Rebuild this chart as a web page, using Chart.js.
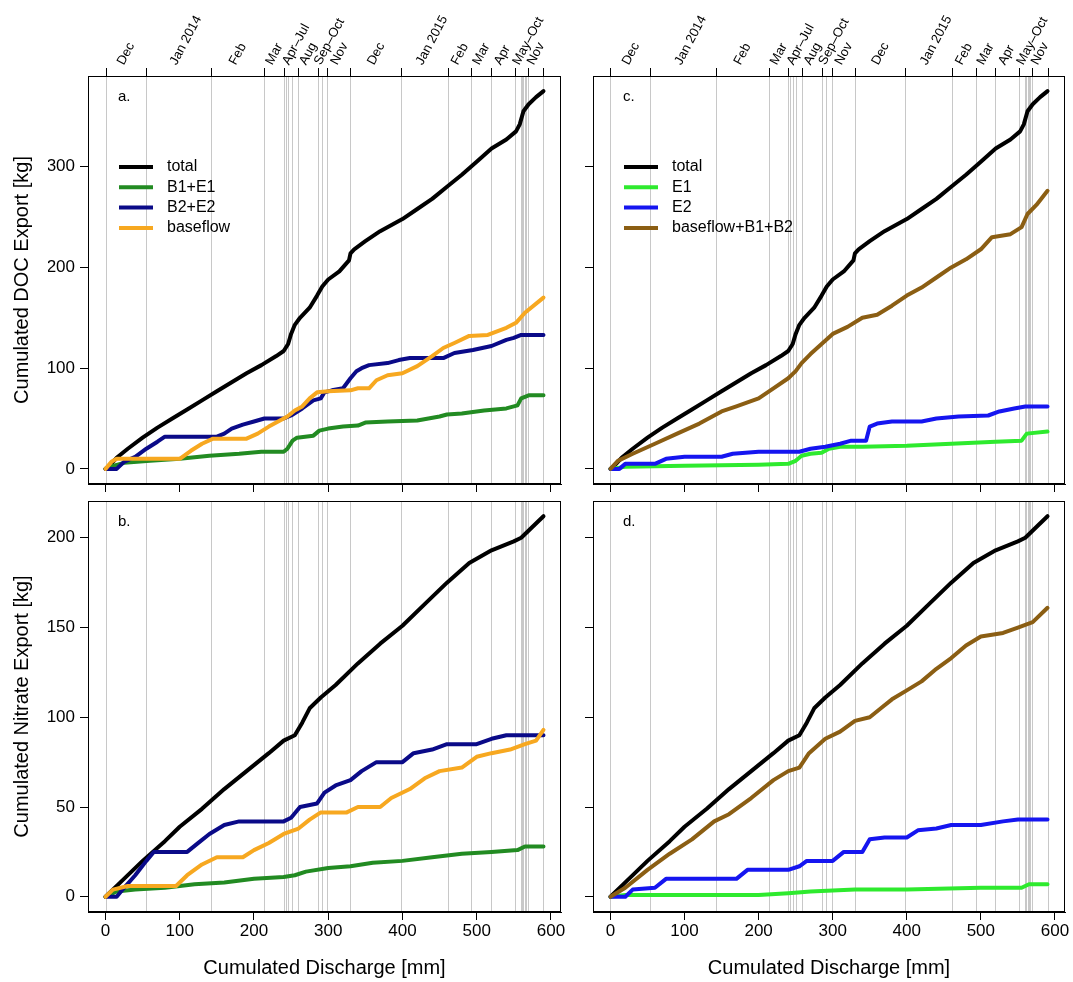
<!DOCTYPE html>
<html lang="en">
<head>
<meta charset="UTF-8">
<title>Cumulated DOC and Nitrate Export</title>
<script src="https://cdn.jsdelivr.net/npm/chart.js"></script>
<style>
  body { margin: 0; background: #fff; }
  #wrap { position: relative; width: 1073px; height: 982px; }
  #wrap canvas { position: absolute; left: 0; top: 0; }
</style>
</head>
<body>
<div id="wrap">
  <canvas id="pa" width="1073" height="982"></canvas>
  <canvas id="pb" width="1073" height="982"></canvas>
  <canvas id="pc" width="1073" height="982"></canvas>
  <canvas id="pd" width="1073" height="982"></canvas>
</div>
<script>
// month boundaries in cumulated discharge [mm]
const monthBreaks = [0, 54, 142, 214, 240, 243, 246, 251, 259, 286, 291, 299, 330, 398, 461, 493, 519, 551, 560, 561.5, 563, 564.5, 566, 568.5, 590];
const topTicks = [0, 54, 142, 214, 240, 259, 286, 299, 330, 398, 461, 493, 519, 551, 568.5, 590];
const monthLabels = ['Dec', 'Jan 2014', 'Feb', 'Mar', 'Apr\u2013Jul', 'Aug', 'Sep\u2013Oct', 'Nov', 'Dec', 'Jan 2015', 'Feb', 'Mar', 'Apr', 'May\u2013Oct', 'Nov'];

// tick labels
const xTicks = [0, 100, 200, 300, 400, 500, 600];
const docTicks = [0, 100, 200, 300];
const no3Ticks = [0, 50, 100, 150, 200];

// DOC [kg] vs discharge [mm]
const docTotal = [[0,0],[5,3],[15,11],[30,20],[50,31],[70,41],[90,50],[110,59],[130,68],[150,77],[170,86],[190,95],[210,103],[230,112],[240,117],[246,124],[250,134],[255,143],[262,150],[275,160],[285,172],[292,181],[300,188],[315,196],[328,207],[330,214],[335,218],[350,226],[370,236],[400,248],[420,258],[440,268],[445,271],[460,280],[480,292],[500,305],[520,318],[540,327],[553,335],[558,342],[563,355],[570,362],[580,369],[590,375]];
const docB1E1 = [[0,0],[10,3],[25,6],[60,8],[100,10],[140,13],[180,15],[210,17],[240,17],[245,20],[252,28],[258,31],[280,33],[288,38],[300,40],[320,42],[340,43],[350,46],[380,47],[420,48],[450,52],[460,54],[480,55],[510,58],[540,60],[555,63],[560,70],[570,73],[590,73]];
const docB2E2 = [[0,0],[15,0],[25,7],[40,12],[55,20],[70,27],[80,32],[150,32],[160,35],[170,40],[185,44],[200,47],[214,50],[240,50],[250,53],[265,60],[280,68],[290,70],[295,76],[305,78],[320,80],[330,90],[338,97],[345,100],[355,103],[380,105],[395,108],[410,110],[455,110],[470,115],[495,118],[520,122],[540,128],[550,130],[560,133],[590,133]];
const docBase = [[0,0],[8,7],[15,10],[40,10],[100,10],[115,18],[130,25],[145,30],[190,30],[205,35],[220,42],[235,48],[245,52],[255,58],[265,62],[275,70],[285,76],[300,77],[330,78],[340,80],[355,80],[365,88],[380,93],[400,95],[420,102],[440,112],[455,120],[470,125],[490,132],[515,133],[540,140],[553,145],[565,155],[590,170]];
const docE1 = [[0,0],[20,2],[100,3],[200,4],[240,5],[250,8],[258,13],[270,15],[285,16],[295,20],[310,22],[340,22],[400,23],[460,25],[520,27],[555,28],[562,35],[590,37]];
const docE2 = [[0,0],[12,0],[20,5],[60,5],[75,10],[100,12],[150,12],[165,15],[200,17],[255,17],[270,20],[290,22],[310,25],[325,28],[345,28],[350,42],[360,45],[380,47],[420,47],[440,50],[470,52],[510,53],[525,57],[545,60],[560,62],[590,62]];
const docBaseB = [[0,0],[10,8],[30,15],[60,25],[90,35],[120,45],[150,57],[170,62],[200,70],[220,80],[240,90],[250,97],[258,105],[270,114],[285,124],[300,134],[320,141],[340,150],[360,153],[380,162],[400,172],[420,180],[440,190],[460,200],[480,208],[500,218],[515,230],[540,233],[555,240],[563,253],[575,262],[590,276]];

// Nitrate [kg] vs discharge [mm]
const no3Total = [[0,0],[20,8],[50,20],[80,31],[100,39],[130,49],[160,60],[190,70],[220,80],[240,87],[255,90],[265,97],[275,105],[290,111],[310,118],[340,130],[370,141],[400,151],[430,163],[460,175],[490,186],[520,193],[550,198],[560,200],[575,206],[590,212]];
const no3B1E1 = [[0,0],[15,3],[40,4],[80,5],[120,7],[160,8],[200,10],[240,11],[255,12],[270,14],[300,16],[330,17],[360,19],[400,20],[440,22],[480,24],[520,25],[555,26],[565,28],[590,28]];
const no3B2E2 = [[0,0],[15,0],[25,5],[40,12],[55,20],[65,25],[110,25],[125,30],[140,35],[160,40],[180,42],[240,42],[250,44],[262,50],[285,52],[295,58],[310,62],[330,65],[345,70],[365,75],[400,75],[415,80],[440,82],[460,85],[500,85],[520,88],[540,90],[590,90]];
const no3Base = [[0,0],[10,4],[30,6],[95,6],[110,12],[130,18],[150,22],[185,22],[200,26],[220,30],[240,35],[260,38],[275,43],[290,47],[325,47],[340,50],[370,50],[385,55],[410,60],[430,66],[450,70],[480,72],[500,78],[520,80],[545,82],[565,85],[580,87],[590,93]];
const no3E1 = [[0,0],[20,1],[200,1],[240,2],[270,3],[330,4],[400,4],[500,5],[555,5],[565,7],[590,7]];
const no3E2 = [[0,0],[20,0],[30,4],[60,5],[75,10],[170,10],[185,15],[240,15],[255,17],[265,20],[300,20],[315,25],[340,25],[350,32],[370,33],[400,33],[415,37],[440,38],[460,40],[500,40],[530,42],[550,43],[590,43]];
const no3BaseB = [[0,0],[20,5],[50,15],[80,24],[110,32],[140,42],[160,46],[190,55],[220,65],[240,70],[255,72],[268,80],[290,88],[310,92],[330,98],[350,100],[365,105],[380,110],[400,115],[420,120],[440,127],[460,133],[480,140],[500,145],[530,147],[550,150],[570,153],[590,161]];

const FONT = "'Liberation Sans', Arial, sans-serif";

// R-like decorations: month lines, box, top month axis, legend, titles
const rPanel = {
  id: 'rPanel',
  beforeDatasetsDraw(chart) {
    const { ctx, chartArea: a, scales: { x } } = chart;
    ctx.save();
    ctx.strokeStyle = '#c8c8c8';
    ctx.lineWidth = 1;
    monthBreaks.forEach(m => {
      const px = Math.round(x.getPixelForValue(m)) + 0.5;
      ctx.beginPath(); ctx.moveTo(px, a.top); ctx.lineTo(px, a.bottom); ctx.stroke();
    });
    ctx.restore();
  },
  afterDraw(chart, args, o) {
    const { ctx, chartArea: a, scales: { x } } = chart;
    ctx.save();
    ctx.strokeStyle = '#000';
    ctx.lineWidth = 1;
    ctx.strokeRect(a.left + 0.5, a.top + 0.5, a.right - a.left - 1, a.bottom - a.top - 1);

    ctx.fillStyle = '#000';
    ctx.font = '15px ' + FONT;
    ctx.textAlign = 'left';
    ctx.textBaseline = 'middle';
    ctx.fillText(o.tag, a.left + 30, a.top + 21);

    if (o.legend) {
      ctx.font = '16px ' + FONT;
      chart.data.datasets.forEach((ds, i) => {
        const y = a.top + 91 + i * 20.3;
        ctx.strokeStyle = ds.borderColor;
        ctx.lineWidth = 4;
        ctx.beginPath(); ctx.moveTo(a.left + 31, y); ctx.lineTo(a.left + 65, y); ctx.stroke();
        ctx.fillText(ds.label, a.left + 79, y);
      });
    }

    if (o.top) {
      ctx.strokeStyle = '#000';
      ctx.lineWidth = 1;
      topTicks.forEach(m => {
        const px = Math.round(x.getPixelForValue(m)) + 0.5;
        ctx.beginPath(); ctx.moveTo(px, a.top); ctx.lineTo(px, a.top - 8); ctx.stroke();
      });
      ctx.font = '13px ' + FONT;
      monthLabels.forEach((lab, i) => {
        const mid = x.getPixelForValue((topTicks[i] + topTicks[i + 1]) / 2);
        ctx.save();
        ctx.translate(mid - 5, a.top - 12);
        ctx.rotate(-62 * Math.PI / 180);
        ctx.fillText(lab, 0, 0);
        ctx.restore();
      });
    }

    ctx.font = '20px ' + FONT;
    ctx.textAlign = 'center';
    if (o.yTitle) {
      ctx.save();
      ctx.translate(22, (a.top + a.bottom) / 2);
      ctx.rotate(-Math.PI / 2);
      ctx.fillText(o.yTitle, 0, 0);
      ctx.restore();
    }
    if (o.xTitle) {
      ctx.fillText(o.xTitle, (a.left + a.right) / 2, 968);
    }
    ctx.restore();
  }
};

function extent(series) {
  const ys = series.flat().map(p => p[1]);
  const lo = Math.min(...ys), hi = Math.max(...ys);
  const pad = (hi - lo) * 0.04;
  return [lo - pad, hi + pad];
}
const xs = [docTotal, no3Total].flat().map(p => p[0]);
const xPad = (Math.max(...xs) - Math.min(...xs)) * 0.04;

function line(label, data, color, order) {
  return { label, data, borderColor: color, backgroundColor: color, borderWidth: 4,
           pointRadius: 0, tension: 0, borderJoinStyle: 'round', borderCapStyle: 'round', order };
}

function panel(id, box, datasets, yRange, yTicks, opts) {
  const [L, T, R, B] = box;
  new Chart(document.getElementById(id), {
    type: 'line',
    data: { datasets },
    options: {
      responsive: false,
      animation: false,
      layout: { padding: { left: L - 40, top: T, right: 1073 - R, bottom: 982 - B - 40 } },
      scales: {
        x: {
          type: 'linear', position: 'bottom',
          min: Math.min(...xs) - xPad, max: Math.max(...xs) + xPad,
          afterFit: s => { s.height = 40; },
          afterBuildTicks: s => { s.ticks = xTicks.map(v => ({ value: v })); },
          grid: { drawOnChartArea: false, drawTicks: true, tickLength: 8, color: '#000' },
          border: { display: true, color: '#000' },
          ticks: { display: opts.xLabels, padding: 1, color: '#000',
                   font: { size: 17, family: FONT }, maxRotation: 0 }
        },
        y: {
          type: 'linear', position: 'left',
          min: yRange[0], max: yRange[1],
          afterFit: s => { s.width = 40; },
          afterBuildTicks: s => { s.ticks = yTicks.map(v => ({ value: v })); },
          grid: { drawOnChartArea: false, drawTicks: true, tickLength: 8, color: '#000' },
          border: { display: true, color: '#000' },
          ticks: { display: opts.yLabels, padding: 5, color: '#000',
                   font: { size: 17, family: FONT } }
        }
      },
      plugins: {
        legend: { display: false },
        tooltip: { enabled: false },
        rPanel: opts
      }
    },
    plugins: [rPanel]
  });
}

const docRange = extent([docTotal, docB1E1, docB2E2, docBase, docE1, docE2, docBaseB]);
const no3Range = extent([no3Total, no3B1E1, no3B2E2, no3Base, no3E1, no3E2, no3BaseB]);

const cBlack = '#000000', cB1 = '#228B22', cB2 = '#0a0a88', cBase = '#F7A820',
      cE1 = '#2EEA2E', cE2 = '#1515F0', cBaseB = '#8B5E13';

panel('pa', [88, 76, 561, 484], [
  line('total', docTotal, cBlack, 4), line('B1+E1', docB1E1, cB1, 3),
  line('B2+E2', docB2E2, cB2, 2), line('baseflow', docBase, cBase, 1)
], docRange, docTicks, { tag: 'a.', legend: true, top: true, xLabels: false, yLabels: true, yTitle: 'Cumulated DOC Export [kg]' });

panel('pb', [88, 501, 561, 912], [
  line('total', no3Total, cBlack, 4), line('B1+E1', no3B1E1, cB1, 3),
  line('B2+E2', no3B2E2, cB2, 2), line('baseflow', no3Base, cBase, 1)
], no3Range, no3Ticks, { tag: 'b.', legend: false, top: false, xLabels: true, yLabels: true, yTitle: 'Cumulated Nitrate Export [kg]', xTitle: 'Cumulated Discharge [mm]' });

panel('pc', [593, 76, 1065, 484], [
  line('total', docTotal, cBlack, 4), line('E1', docE1, cE1, 3),
  line('E2', docE2, cE2, 2), line('baseflow+B1+B2', docBaseB, cBaseB, 1)
], docRange, docTicks, { tag: 'c.', legend: true, top: true, xLabels: false, yLabels: false });

panel('pd', [593, 501, 1065, 912], [
  line('total', no3Total, cBlack, 4), line('E1', no3E1, cE1, 3),
  line('E2', no3E2, cE2, 2), line('baseflow+B1+B2', no3BaseB, cBaseB, 1)
], no3Range, no3Ticks, { tag: 'd.', legend: false, top: false, xLabels: true, yLabels: false, xTitle: 'Cumulated Discharge [mm]' });
</script>
</body>
</html>
